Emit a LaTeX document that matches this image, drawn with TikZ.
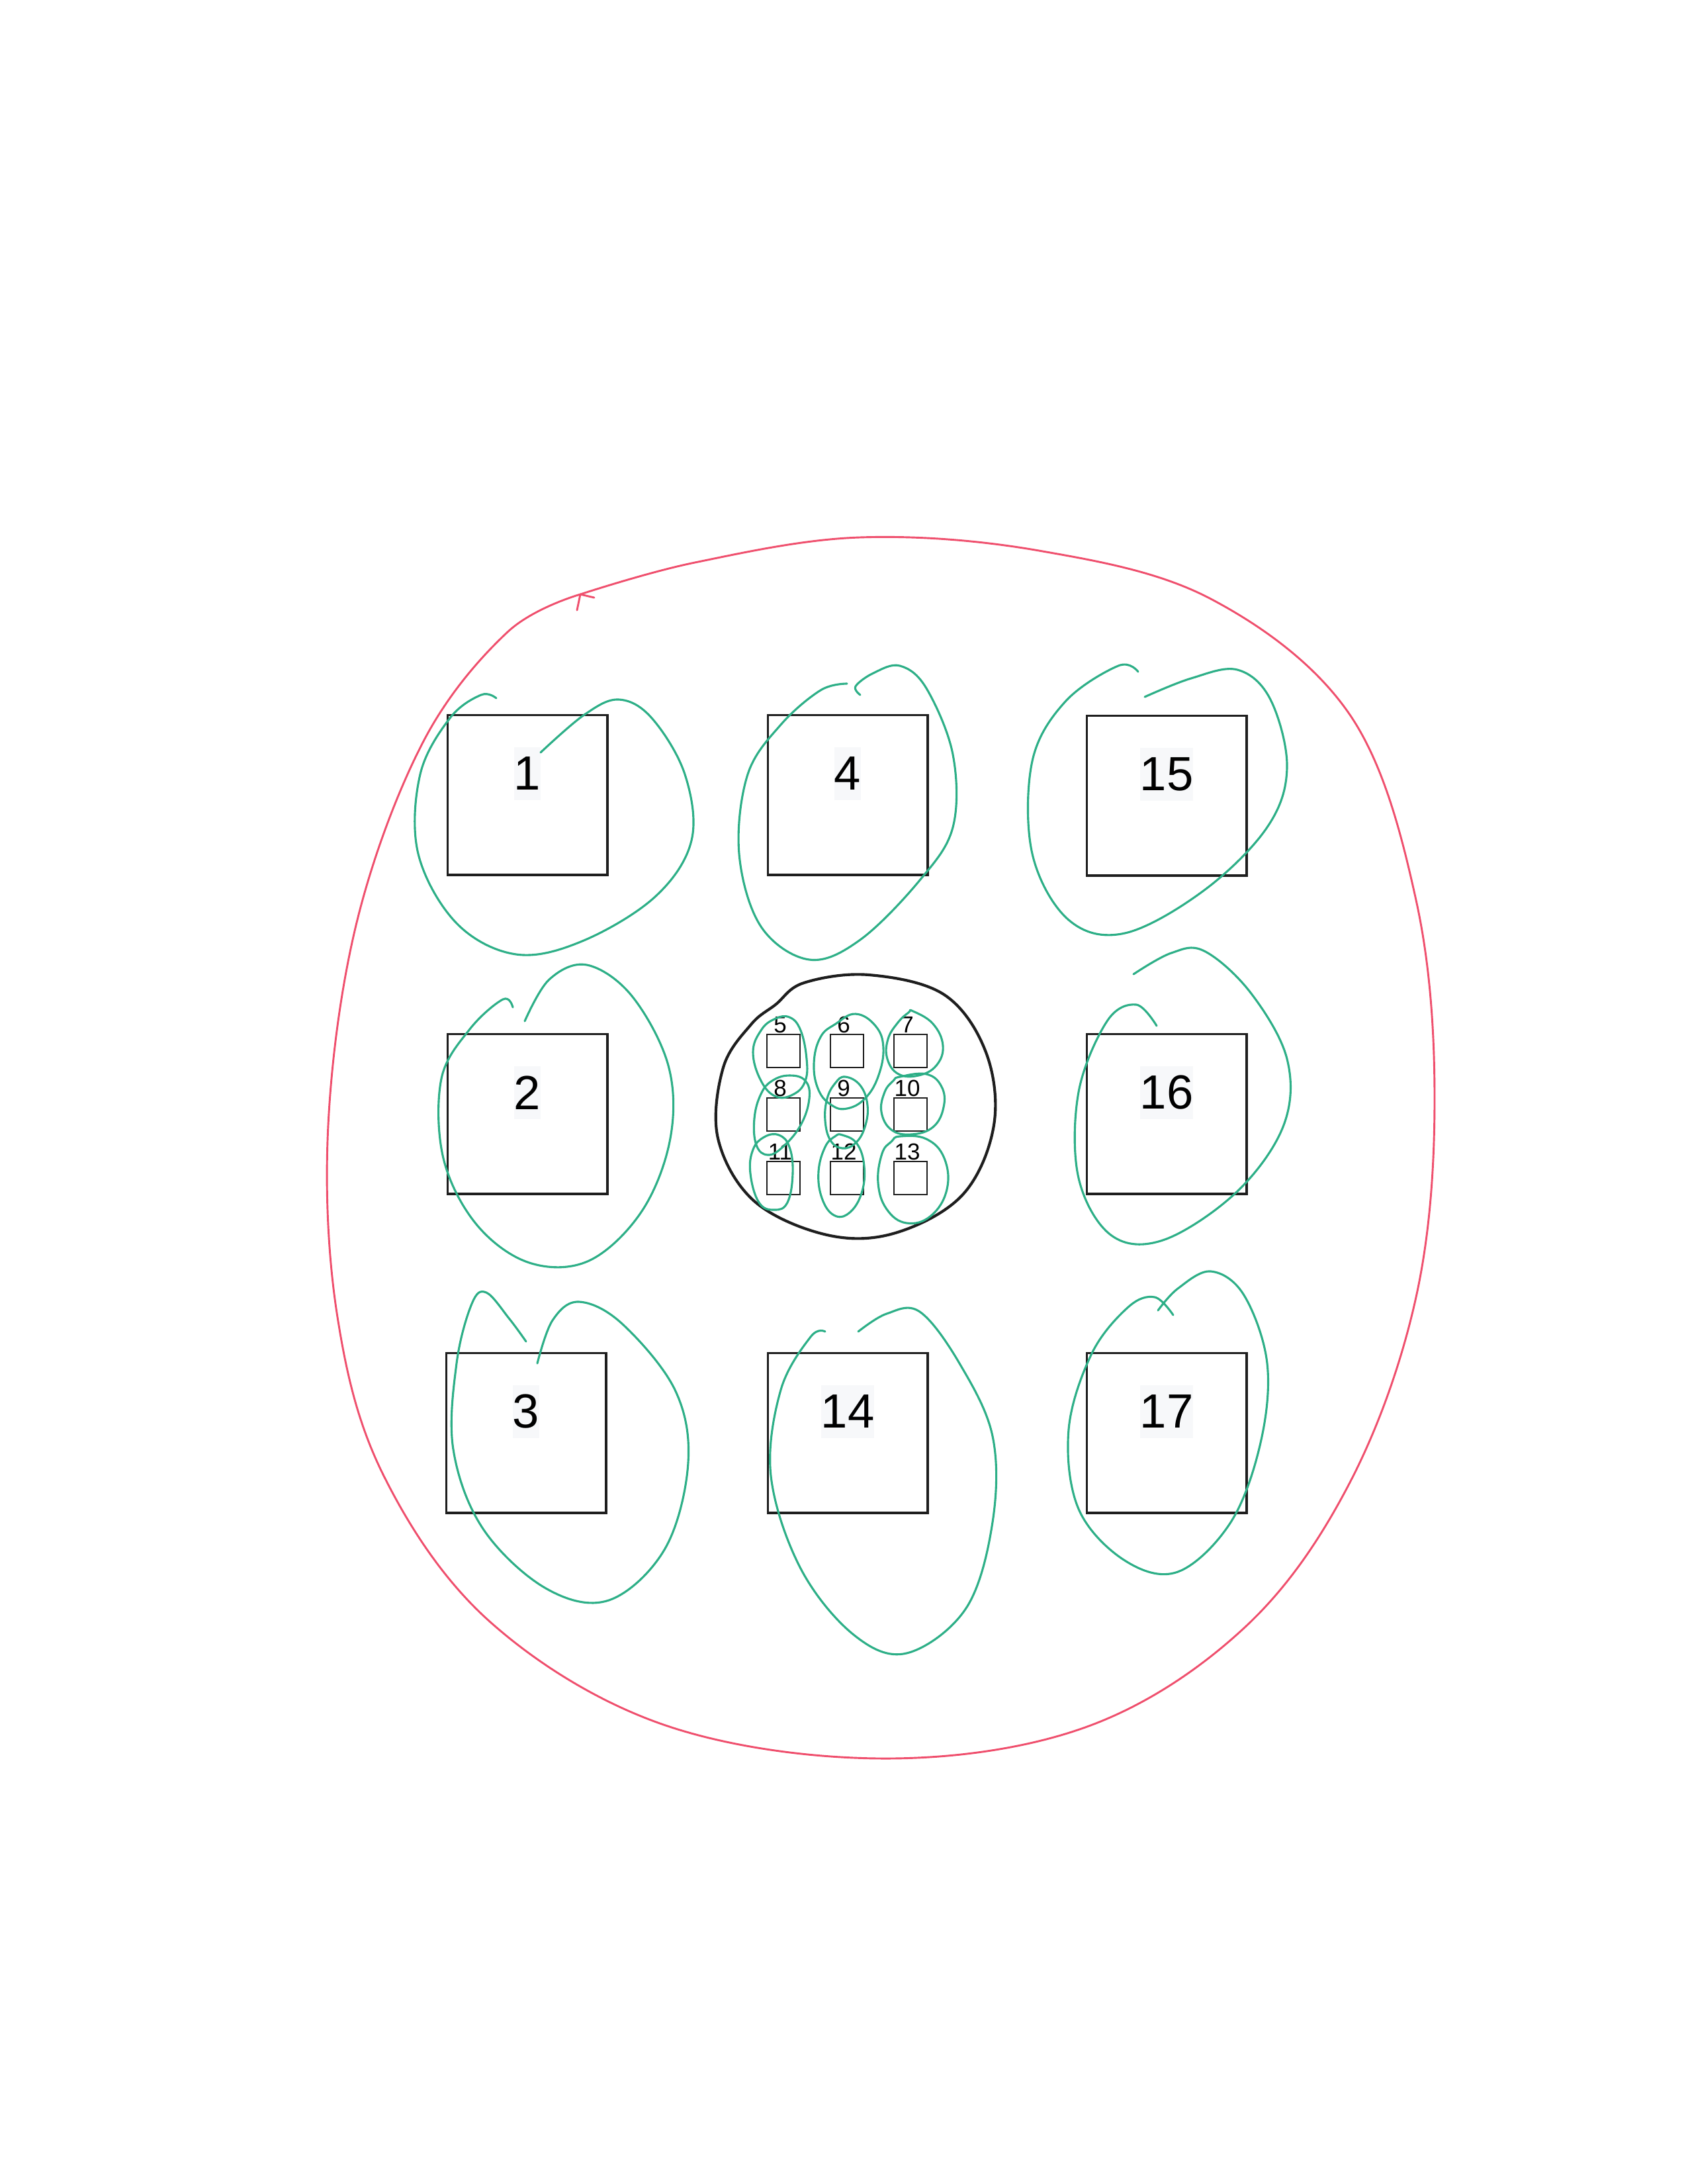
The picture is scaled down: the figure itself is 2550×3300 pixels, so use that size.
\documentclass[tikz,border=0pt]{standalone}
\usepackage{fontspec}
\setmainfont{Liberation Sans}
\usepackage{xcolor}
\definecolor{cInk}{HTML}{1E1E1E}
\definecolor{cLoop}{HTML}{2DAF87}
\definecolor{cRim}{HTML}{EF4F6D}
\definecolor{cTag}{HTML}{F7F8FA}
\usetikzlibrary{positioning,calc}
\tikzset{
  node-pad/.style={draw=cInk,line width=0.8pt,minimum size=58pt,inner sep=0pt},
  node-pin/.style={draw=cInk,line width=0.7pt,minimum size=12pt,inner sep=0pt},
  tag-big/.style={fill=cTag,inner sep=0pt,minimum height=19pt,
    font=\fontsize{17.4}{20}\selectfont},
  tag-small/.style={inner sep=0pt,anchor=south,font=\fontsize{8.4}{10}\selectfont},
  hub/.style={draw=cInk,line width=1pt},
  rim/.style={draw=cRim,line width=0.7pt,line cap=round,line join=round},
  loop-mark/.style={draw=cLoop,line width=0.75pt,line cap=round},
}

\begin{document}
\begin{tikzpicture}[x=0.24pt,y=-0.24pt]
  \useasboundingbox (0,0) rectangle (2550,3300);
  % outer red outline
  \draw[rim] plot[smooth,tension=0.6] coordinates {(877,898) (1050,850)
    (1299,812) (1570,832) (1830,905) (2040,1080) (2140,1360) (2168,1660)
    (2140,1960) (2040,2240) (1880,2460) (1640,2610) (1330,2657) (1000,2605)
    (740,2450) (580,2230) (510,1990) (496,1700) (540,1390) (640,1120)
    (767,955) (877,898)};
  \draw[rim] (877,898) -- (872,922);
  \draw[rim] (877,898) -- (898,903);
  % centre ring
  \draw[hub] plot[smooth cycle,tension=0.6] coordinates {(1172,1518) (1215,1485)
    (1313,1473) (1427,1503) (1490,1590) (1502,1700) (1455,1805) (1353,1863)
    (1250,1866) (1140,1815) (1085,1720) (1093,1613) (1135,1548)};
  % large pads
  \foreach \n/\x/\y in {1/797/1201,2/797/1683,3/795/2165,4/1281/1201,
      14/1281/2165,15/1763/1202,16/1763/1683,17/1763/2165}{
    \node[node-pad] (b\n) at (\x,\y) {};
    \node[tag-big] (t\n) at ([yshift=7.7pt]b\n.center) {\n};
  }
  % small pads inside the ring
  \foreach \n/\x/\y in {5/1184/1588,6/1280/1588,7/1376/1588,8/1184/1684,
      9/1280/1684,10/1376/1684,11/1184/1780,12/1280/1780,13/1376/1780}{
    \node[node-pin] (s\n) at (\x,\y) {};
    \node[tag-small] (t\n) at ([xshift=-1.2pt]s\n.north) {\n};
  }
  % green loops, large pads
  \draw[loop-mark] plot[smooth,tension=0.6] coordinates {(817,1137) (883,1080)
    (935,1057) (985,1085) (1035,1170) (1045,1270) (990,1355) (880,1422)
    (780,1442) (690,1395) (632,1290) (635,1170) (680,1085) (727,1050) (750,1055)};
  \draw[loop-mark] plot[smooth,tension=0.6] coordinates {(1300,1050) (1293,1037)
    (1320,1017) (1360,1006) (1400,1040) (1440,1140) (1440,1250) (1390,1330)
    (1300,1420) (1223,1450) (1150,1400) (1117,1290) (1130,1170) (1180,1095)
    (1240,1043) (1280,1033)};
  \draw[loop-mark] plot[smooth,tension=0.6] coordinates {(1730,1053) (1800,1025)
    (1870,1012) (1920,1057) (1945,1160) (1915,1250) (1820,1345) (1700,1410)
    (1615,1390) (1560,1290) (1560,1150) (1610,1060) (1690,1006) (1720,1015)};
  \draw[loop-mark] plot[smooth,tension=0.6] coordinates {(793,1543) (830,1480)
    (887,1458) (955,1505) (1010,1610) (1013,1720) (970,1830) (890,1905)
    (800,1908) (720,1850) (670,1750) (667,1630) (710,1555) (760,1510) (775,1522)};
  \draw[loop-mark] plot[smooth,tension=0.6] coordinates {(1713,1472) (1770,1440)
    (1820,1437) (1890,1500) (1945,1600) (1940,1700) (1870,1800) (1760,1873)
    (1680,1867) (1630,1780) (1630,1650) (1673,1543) (1717,1518) (1748,1550)};
  \draw[loop-mark] plot[smooth,tension=0.6] coordinates {(812,2060) (835,1995)
    (875,1967) (940,2000) (1020,2100) (1040,2210) (1005,2340) (920,2418)
    (825,2400) (730,2310) (685,2190) (690,2060) (713,1970) (735,1953)
    (770,1993) (795,2027)};
  \draw[loop-mark] plot[smooth,tension=0.6] coordinates {(1297,2012) (1340,1985)
    (1390,1982) (1450,2060) (1500,2170) (1500,2300) (1460,2430) (1370,2498)
    (1290,2470) (1210,2370) (1165,2230) (1180,2100) (1225,2020) (1247,2012)};
  \draw[loop-mark] plot[smooth,tension=0.6] coordinates {(1773,1987) (1745,1960)
    (1705,1975) (1650,2045) (1615,2160) (1630,2280) (1700,2358) (1780,2375)
    (1860,2300) (1905,2180) (1915,2060) (1880,1957) (1830,1921) (1780,1947)
    (1750,1980)};
  % green loops, small pads
  \draw[loop-mark] plot[smooth cycle,tension=0.7] coordinates {(1193,1537)
    (1210,1557) (1219,1600) (1217,1633) (1200,1653) (1173,1657) (1150,1633)
    (1138,1590) (1150,1557) (1170,1540)};
  \draw[loop-mark] plot[smooth cycle,tension=0.7] coordinates {(1150,1653)
    (1140,1690) (1143,1730) (1160,1745) (1183,1733) (1210,1700) (1223,1660)
    (1217,1633) (1193,1625) (1167,1633)};
  \draw[loop-mark] plot[smooth cycle,tension=0.7] coordinates {(1177,1715)
    (1193,1733) (1198,1773) (1190,1817) (1170,1828) (1147,1817) (1134,1773)
    (1138,1737) (1155,1718)};
  \draw[loop-mark] plot[smooth cycle,tension=0.7] coordinates {(1293,1532)
    (1323,1550) (1335,1583) (1327,1627) (1307,1660) (1280,1675) (1257,1670)
    (1237,1647) (1230,1607) (1240,1567) (1263,1547)};
  \draw[loop-mark] plot[smooth cycle,tension=0.7] coordinates {(1277,1627)
    (1300,1640) (1311,1670) (1307,1703) (1293,1727) (1273,1735) (1255,1723)
    (1247,1693) (1250,1660) (1262,1637)};
  \draw[loop-mark] plot[smooth cycle,tension=0.7] coordinates {(1273,1715)
    (1295,1728) (1306,1762) (1302,1803) (1283,1833) (1260,1836) (1242,1810)
    (1237,1770) (1247,1733) (1262,1717)};
  \draw[loop-mark] plot[smooth cycle,tension=0.7] coordinates {(1380,1528)
    (1410,1547) (1425,1580) (1415,1610) (1388,1625) (1358,1623) (1341,1600)
    (1342,1570) (1357,1545) (1373,1530)};
  \draw[loop-mark] plot[smooth cycle,tension=0.7] coordinates {(1360,1627)
    (1400,1623) (1423,1642) (1426,1673) (1410,1703) (1377,1714) (1347,1707)
    (1332,1680) (1337,1650) (1350,1633)};
  \draw[loop-mark] plot[smooth cycle,tension=0.7] coordinates {(1360,1717)
    (1400,1721) (1427,1750) (1431,1797) (1407,1837) (1370,1848) (1340,1827)
    (1327,1787) (1333,1743) (1347,1725)};
\end{tikzpicture}
\end{document}
